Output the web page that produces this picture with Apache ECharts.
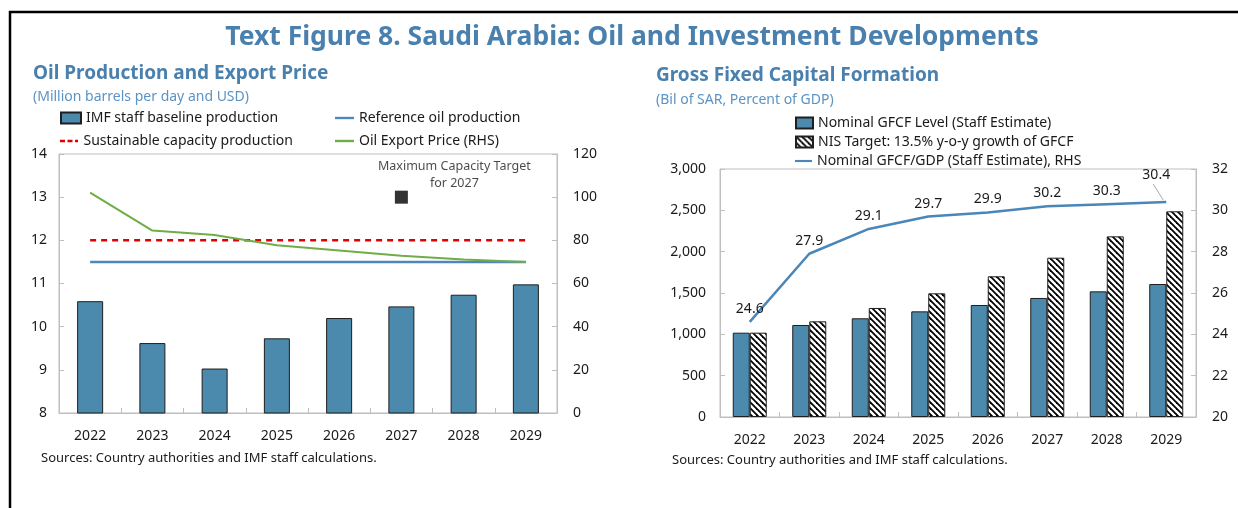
<!DOCTYPE html>
<html lang="en">
<head>
    <meta charset="UTF-8">
    <title>Saudi Arabia: Oil and Investment Developments</title>
    <style>
        html, body { margin: 0; padding: 0; background: #fff; }
    </style>
</head>
<body>
<div id="container" style="width: 1238px;height:508px;"></div>

<script src="https://cdn.jsdelivr.net/npm/echarts@6/dist/echarts.min.js"></script>
<script type="text/javascript">

// categories (both panels)
var years = ['2022', '2023', '2024', '2025', '2026', '2027', '2028', '2029'];

// left panel: oil production (mbpd) and export price (USD, RHS)
var baselineProd = [10.59, 9.62, 9.03, 9.73, 10.2, 10.47, 10.74, 10.98];
var referenceProd = [11.5, 11.5, 11.5, 11.5, 11.5, 11.5, 11.5, 11.5];
var sustainableProd = [12, 12, 12, 12, 12, 12, 12, 12];
var oilPrice = [102.1, 84.5, 82.5, 77.7, 75.3, 72.9, 71.1, 70.0];
var capacityTarget = [null, null, null, null, null, 13, null, null];

// right panel: GFCF (bil SAR) and GFCF/GDP (percent, RHS)
var gfcfLevel = [1020, 1113, 1194, 1278, 1355, 1440, 1520, 1609];
var nisTarget = [1020, 1157, 1319, 1496, 1702, 1927, 2185, 2488];
var gfcfGdp = [24.6, 27.9, 29.1, 29.7, 29.9, 30.2, 30.3, 30.4];

var FONT = '"Noto Sans", sans-serif';
var BAR_BLUE = '#4b8aad';
var GRID_GRAY = '#bfbfbf';
var TITLE_BLUE = '#4a80ad';

// legend icons for the line series (plain line, dashed line)
var LINE_ICON = 'path://M0,0H20V2.5H0Z';
var DASH_ICON = 'path://M0,0h5v2.5h-5z M7.5,0h5v2.5h-5z M15,0h3v2.5h-3z';

// hatch pattern for NIS target bars
function hatch() {
  var c = document.createElement('canvas');
  c.width = 6; c.height = 6;
  var ctx = c.getContext('2d');
  ctx.fillStyle = '#fff';
  ctx.fillRect(0, 0, 6, 6);
  ctx.strokeStyle = '#000';
  ctx.lineWidth = 1.8;
  for (var k = -6; k <= 6; k += 6) {
    ctx.beginPath();
    ctx.moveTo(k - 1, -1);
    ctx.lineTo(k + 7, 7);
    ctx.stroke();
  }
  return c;
}

function valAxis(gridIndex, min, max, interval, side, margin, fmt) {
  return {
    type: 'value', gridIndex: gridIndex, position: side,
    min: min, max: max, interval: interval,
    axisLine: {show: true, lineStyle: {color: GRID_GRAY}},
    axisTick: {show: true, inside: true, length: 5, lineStyle: {color: GRID_GRAY}},
    splitLine: {show: false},
    axisLabel: {color: '#1a1a1a', fontSize: 14, fontFamily: FONT, margin: margin, formatter: fmt}
  };
}

function catAxis(gridIndex) {
  return {
    type: 'category', gridIndex: gridIndex, data: years,
    axisLine: {show: true, lineStyle: {color: GRID_GRAY}},
    axisTick: {show: true, inside: true, length: 5, lineStyle: {color: GRID_GRAY}},
    axisLabel: {color: '#1a1a1a', fontSize: 14, fontFamily: FONT, margin: 16}
  };
}

// one legend box per item so the columns line up like the original
function legendItem(name, left, top, w, h, icon) {
  return {
    left: left, top: top, padding: 0, itemWidth: w, itemHeight: h,
    data: [{name: name, icon: icon || 'rect'}],
    textStyle: {color: '#1a1a1a', fontSize: 14, fontFamily: FONT}
  };
}

var dom = document.getElementById('container');
var myChart = echarts.init(dom);

var option = {
  animation: false,
  textStyle: {fontFamily: FONT},
  grid: [
    {left: 59, top: 154, width: 498, height: 259, show: true, borderColor: GRID_GRAY, borderWidth: 1},
    {left: 720, top: 169, width: 476, height: 248, show: true, borderColor: GRID_GRAY, borderWidth: 1}
  ],
  xAxis: [catAxis(0), catAxis(1)],
  yAxis: [
    valAxis(0, 8, 14, 1, 'left', 12),
    valAxis(0, 0, 120, 20, 'right', 16),
    valAxis(1, 0, 3000, 500, 'left', 14, function (v) { return v.toLocaleString('en-US'); }),
    valAxis(1, 20, 32, 2, 'right', 16)
  ],
  legend: [
    legendItem('IMF staff baseline production', 60, 111, 20, 11),
    legendItem('Reference oil production', 335, 111, 19, 2.5, LINE_ICON),
    legendItem('Sustainable capacity production', 60, 134, 19, 2.5, DASH_ICON),
    legendItem('Oil Export Price (RHS)', 335, 134, 19, 2.5, LINE_ICON),
    legendItem('Nominal GFCF Level (Staff Estimate)', 795, 116, 17, 11),
    legendItem('NIS Target: 13.5% y-o-y growth of GFCF', 795, 135, 17, 11),
    legendItem('Nominal GFCF/GDP (Staff Estimate), RHS', 795, 154, 17, 2.5, LINE_ICON)
  ],
  series: [
    {
      name: 'IMF staff baseline production', type: 'bar', xAxisIndex: 0, yAxisIndex: 0,
      barWidth: 26, data: baselineProd,
      itemStyle: {color: BAR_BLUE, borderColor: '#1f1f1f', borderWidth: 1}
    },
    {
      name: 'Reference oil production', type: 'line', xAxisIndex: 0, yAxisIndex: 0,
      data: referenceProd, symbol: 'none',
      lineStyle: {color: '#4f86c0', width: 2.5}, itemStyle: {color: '#4f86c0'}
    },
    {
      name: 'Sustainable capacity production', type: 'line', xAxisIndex: 0, yAxisIndex: 0,
      data: sustainableProd, symbol: 'none',
      lineStyle: {color: '#e00000', width: 2.5, type: [6, 5]}, itemStyle: {color: '#e00000'}
    },
    {
      name: 'Oil Export Price (RHS)', type: 'line', xAxisIndex: 0, yAxisIndex: 1,
      data: oilPrice, symbol: 'none',
      lineStyle: {color: '#70ad47', width: 2}, itemStyle: {color: '#70ad47'}
    },
    {
      name: 'Maximum Capacity Target', type: 'scatter', xAxisIndex: 0, yAxisIndex: 0,
      data: capacityTarget, symbol: 'rect', symbolSize: 13,
      itemStyle: {color: '#000'},
      label: {
        show: true, position: 'top', distance: 8, offset: [53, 9],
        formatter: 'Maximum Capacity Target\nfor 2027',
        color: '#1a1a1a', fontSize: 12.5, lineHeight: 17, fontFamily: FONT
      }
    },
    {
      name: 'Nominal GFCF Level (Staff Estimate)', type: 'bar', xAxisIndex: 1, yAxisIndex: 2,
      barWidth: 17, barGap: '0%', data: gfcfLevel,
      itemStyle: {color: BAR_BLUE, borderColor: '#1f1f1f', borderWidth: 1}
    },
    {
      name: 'NIS Target: 13.5% y-o-y growth of GFCF', type: 'bar', xAxisIndex: 1, yAxisIndex: 2,
      barWidth: 17, barGap: '0%', data: nisTarget,
      itemStyle: {color: {image: hatch(), repeat: 'repeat'}, borderColor: '#1f1f1f', borderWidth: 1}
    },
    {
      name: 'Nominal GFCF/GDP (Staff Estimate), RHS', type: 'line', xAxisIndex: 1, yAxisIndex: 3,
      data: gfcfGdp, symbol: 'circle', symbolSize: 0, showSymbol: true, z: 3,
      lineStyle: {color: '#4a86b8', width: 2.5}, itemStyle: {color: '#4a86b8'},
      label: {show: true, position: 'top', distance: 6, color: '#1a1a1a', fontSize: 14, fontFamily: FONT},
      labelLayout: function (p) {
        if (p.dataIndex === gfcfGdp.length - 1) {
          return {dx: -10, dy: -14};
        }
        return {};
      }
    },
    {
      // leader from the last GFCF/GDP point to its shifted label
      name: 'leader', type: 'custom', xAxisIndex: 1, yAxisIndex: 3, silent: true, z: 2,
      data: [[gfcfGdp.length - 1, gfcfGdp[gfcfGdp.length - 1]]],
      renderItem: function (params, api) {
        var p = api.coord([api.value(0), api.value(1)]);
        return {
          type: 'line',
          shape: {x1: p[0] - 3, y1: p[1] - 2, x2: p[0] - 13, y2: p[1] - 18},
          style: {stroke: '#a6a6a6', lineWidth: 1}
        };
      }
    }
  ],
  graphic: [
    {type: 'polyline', shape: {points: [[10, 508], [10, 12], [1238, 12]]}, style: {stroke: '#000', lineWidth: 2.5, fill: null}},
    {type: 'text', x: 632, y: 37, style: {text: 'Text Figure 8. Saudi Arabia: Oil and Investment Developments',
      textAlign: 'center', textVerticalAlign: 'middle', fill: TITLE_BLUE, font: 'bold 26.5px "Noto Sans"'}},
    {type: 'text', x: 33, y: 74, style: {text: 'Oil Production and Export Price',
      textVerticalAlign: 'middle', fill: TITLE_BLUE, font: 'bold 19px "Noto Sans"'}},
    {type: 'text', x: 33, y: 97, style: {text: '(Million barrels per day and USD)',
      textVerticalAlign: 'middle', fill: '#5b93c4', font: '14px "Noto Sans"'}},
    {type: 'text', x: 656, y: 76, style: {text: 'Gross Fixed Capital Formation',
      textVerticalAlign: 'middle', fill: TITLE_BLUE, font: 'bold 19px "Noto Sans"'}},
    {type: 'text', x: 656, y: 100, style: {text: '(Bil of SAR, Percent of GDP)',
      textVerticalAlign: 'middle', fill: '#5b93c4', font: '14px "Noto Sans"'}},
    {type: 'text', x: 41, y: 458, style: {text: 'Sources: Country authorities and IMF staff calculations.',
      textVerticalAlign: 'middle', fill: '#1a1a1a', font: '13px "Noto Sans"'}},
    {type: 'text', x: 672, y: 460, style: {text: 'Sources: Country authorities and IMF staff calculations.',
      textVerticalAlign: 'middle', fill: '#1a1a1a', font: '13px "Noto Sans"'}}
  ]
};

myChart.setOption(option);

</script>
</body>
</html>
